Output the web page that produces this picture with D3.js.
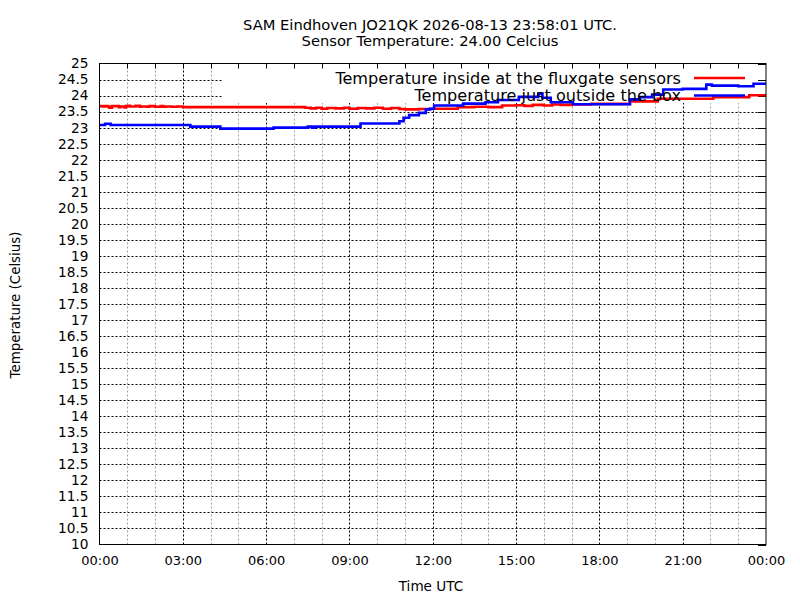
<!DOCTYPE html>
<html><head><meta charset="utf-8">
<script src="https://cdn.jsdelivr.net/npm/d3@7"></script>
<style>
body{margin:0;background:#fff;}
text{font-family:"DejaVu Sans",sans-serif;fill:#000;}
</style></head><body>
<svg id="c" width="800" height="600"></svg>
<script>
// ---- data (hours since 00:00 UTC, degrees Celsius) ----
const titleLines = ["SAM Eindhoven JO21QK 2026-08-13 23:58:01 UTC.", "Sensor Temperature: 24.00 Celcius"];
const seriesNames = ["Temperature inside at the fluxgate sensors", "Temperature just outside the box"];
const seriesColors = ["#ff0000", "#0000ff"];
const xTickHours = [0, 3, 6, 9, 12, 15, 18, 21, 24];
const xTickLabels = ["00:00","03:00","06:00","09:00","12:00","15:00","18:00","21:00","00:00"];
const xMinorHours = [1,2,4,5,7,8,10,11,13,14,16,17,19,20,22,23];
const yTicks = [10,10.5,11,11.5,12,12.5,13,13.5,14,14.5,15,15.5,16,16.5,17,17.5,18,18.5,19,19.5,20,20.5,21,21.5,22,22.5,23,23.5,24,24.5,25];

const insideTimes = [0,0.12,0.18,0.3,0.35,0.45,0.7,0.75,0.9,0.95,1.0,1.1,1.3,1.45,1.5,1.7,1.8,2.0,2.2,2.3,2.4,2.6,2.8,3.0,
  7.4,7.6,7.8,8.0,8.2,8.5,8.8,9.0,9.3,9.6,9.9,10.2,10.5,10.8,11.0,11.5,12.0,12.9,13.5,14.0,14.5,15.0,15.3,15.6,16.0,16.3,16.6,17.0,17.7,19.1,20.1,22.1,23.4,24];
const insideValues = [23.67,23.66,23.67,23.66,23.62,23.67,23.64,23.66,23.63,23.67,23.68,23.66,23.68,23.65,23.66,23.65,23.67,23.65,23.67,23.65,23.66,23.65,23.66,23.64,
  23.62,23.60,23.62,23.59,23.61,23.60,23.62,23.59,23.61,23.60,23.62,23.59,23.61,23.58,23.57,23.58,23.59,23.64,23.65,23.64,23.69,23.70,23.68,23.71,23.69,23.72,23.71,23.72,23.74,23.82,23.90,23.95,24.01,24.01];

const outsideTimes = [0,0.2,0.4,3.27,4.35,6.27,7.5,7.65,7.75,9.4,10.8,10.95,11.15,11.5,11.75,11.9,12.05,13.1,13.9,14.35,15.1,15.8,15.95,16.25,17.05,19.1,19.45,19.9,20.3,21.0,21.85,22.05,23.0,23.55,24];
const outsideValues = [23.08,23.12,23.08,23.03,22.97,23.00,23.03,23.00,23.03,23.13,23.20,23.31,23.39,23.46,23.57,23.59,23.69,23.75,23.79,23.86,23.96,24.06,23.93,23.79,23.73,23.88,23.95,24.03,24.19,24.21,24.34,24.31,24.29,24.37,24.37];

// ---- layout ----
const L = 99.5, R = 766, T = 63.5, B = 544.5;
const keyLeft = 222, keyBottom = 103;
const svg = d3.select("#c");
const x = d3.scaleLinear().domain([0,24]).range([L,R]);
const y = d3.scaleLinear().domain([10,25]).range([B,T]);

// grid
const g = svg.append("g");
yTicks.filter(v => v > 10 && v < 25).forEach(v => {
  const yy = Math.round(y(v)) + 0.5;
  const x2 = yy < keyBottom ? keyLeft : R;
  g.append("line").attr("x1",L).attr("x2",x2).attr("y1",yy).attr("y2",yy)
   .attr("stroke","#000").attr("stroke-width",1).attr("stroke-dasharray","2,2");
});
function vgrid(h, color){
  const xx = Math.round(x(h)) + 0.5;
  const y2 = xx > keyLeft ? keyBottom : T;
  g.append("line").attr("x1",xx).attr("x2",xx).attr("y1",B).attr("y2",y2)
   .attr("stroke",color).attr("stroke-width",1).attr("stroke-dasharray","2,2");
  g.append("line").attr("x1",xx).attr("x2",xx).attr("y1",T).attr("y2",T+5).attr("stroke","#000");
}
xMinorHours.forEach(h => vgrid(h, "#a0a0a0"));
xTickHours.filter(h => h > 0 && h < 24).forEach(h => vgrid(h, "#000"));
yTicks.forEach(v => {
  const yy = Math.round(y(v)) + 0.5;
  g.append("line").attr("x1",R-8).attr("x2",R).attr("y1",yy).attr("y2",yy).attr("stroke","#000");
});

// axes labels
const yAxis = d3.axisLeft(y).tickValues(yTicks).tickSize(0).tickPadding(11).tickFormat(d3.format(""));
const ya = svg.append("g").attr("transform",`translate(${L},0)`).call(yAxis);
ya.select(".domain").remove();
ya.selectAll("text").style("font-size","13.7px").style("font-family","DejaVu Sans").attr("fill","#000");

const xAxis = d3.axisBottom(x).tickValues(xTickHours).tickSize(0).tickPadding(11).tickFormat((d,i) => xTickLabels[i]);
const xa = svg.append("g").attr("transform",`translate(0,${B})`).call(xAxis);
xa.select(".domain").remove();
xa.selectAll("text").style("font-size","13px").style("font-family","DejaVu Sans").attr("fill","#000");

// series
const line = d3.line().x(d => x(d[0])).y(d => y(d[1])).curve(d3.curveStepAfter);
const insideData = insideTimes.map((t,i) => [t, insideValues[i]]);
const outsideData = outsideTimes.map((t,i) => [t, outsideValues[i]]);
svg.append("path").datum(insideData).attr("d",line).attr("fill","none").attr("stroke",seriesColors[0]).attr("stroke-width",2.6);
svg.append("path").datum(outsideData).attr("d",line).attr("fill","none").attr("stroke",seriesColors[1]).attr("stroke-width",2.6);

// border
svg.append("rect").attr("x",L).attr("y",T).attr("width",R-L).attr("height",B-T).attr("fill","none").attr("stroke","#000").attr("stroke-width",1);

// key
const keyRows = [78, 95.5];
seriesNames.forEach((n,i) => {
  svg.append("text").attr("x",681).attr("y",keyRows[i]).attr("text-anchor","end").attr("dominant-baseline","central")
    .style("font-size","16.1px").text(n);
  svg.append("line").attr("x1",694).attr("x2",745).attr("y1",keyRows[i]).attr("y2",keyRows[i])
    .attr("stroke",seriesColors[i]).attr("stroke-width",2.6);
});

// titles
svg.append("text").attr("x",430).attr("y",24).attr("text-anchor","middle").attr("dominant-baseline","central").style("font-size","14.7px").text(titleLines[0]);
svg.append("text").attr("x",430).attr("y",40).attr("text-anchor","middle").attr("dominant-baseline","central").style("font-size","14.7px").text(titleLines[1]);
svg.append("text").attr("x",431).attr("y",586).attr("text-anchor","middle").attr("dominant-baseline","central").style("font-size","13.6px").text("Time UTC");
svg.append("text").attr("transform","translate(15,305) rotate(-90)").attr("text-anchor","middle").attr("dominant-baseline","central").style("font-size","13.4px").text("Temperature (Celsius)");
</script></body></html>
